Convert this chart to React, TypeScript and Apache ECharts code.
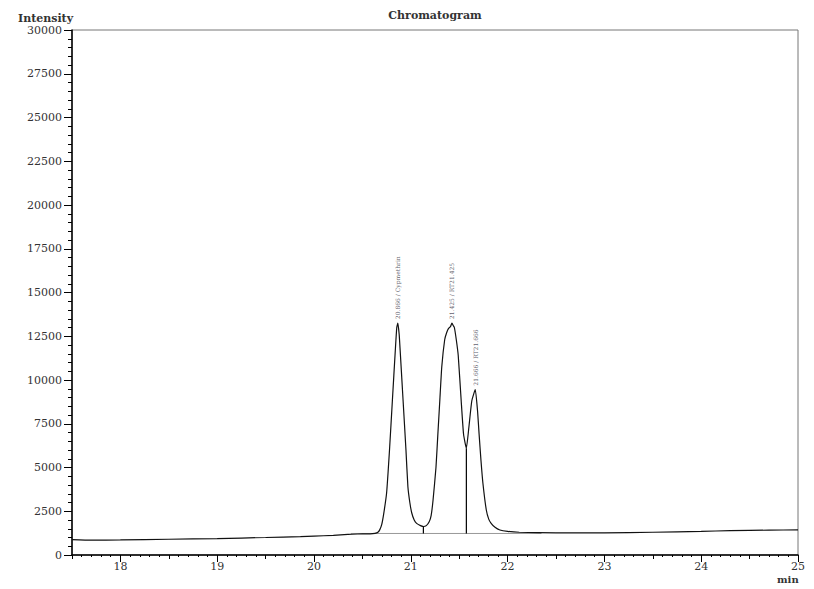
import { useEffect, useRef } from "react";
import * as echarts from "echarts";

// Retention time (min) and detector intensity
const TIME = [
  17.5, 17.7, 18.0, 18.5, 19.0, 19.5, 19.86, 20.0, 20.2, 20.35, 20.45, 20.58, 20.63, 20.66,
  20.68, 20.7, 20.72, 20.75, 20.78, 20.81, 20.84, 20.855, 20.866, 20.88, 20.89, 20.92, 20.95,
  20.97, 20.99, 21.01, 21.035, 21.06, 21.1, 21.13, 21.16, 21.19, 21.21, 21.23, 21.26, 21.28,
  21.3, 21.32, 21.35, 21.37, 21.39, 21.41, 21.425, 21.44, 21.45, 21.47, 21.49, 21.52, 21.545,
  21.574, 21.6, 21.63, 21.666, 21.69, 21.705, 21.725, 21.745, 21.78, 21.805, 21.83, 21.87,
  21.92, 22.0, 22.12, 22.5, 23.0, 23.5, 24.0, 24.3, 24.7, 25.0,
];
const INTENSITY = [
  880, 850, 860, 900, 940, 1000, 1050, 1080, 1120, 1180, 1200, 1210, 1240, 1300,
  1450, 1750, 2350, 3540, 6000, 8860, 11700, 13000, 13250, 12600, 11700, 8860, 6000,
  3900, 3000, 2400, 2000, 1810, 1680, 1630, 1680, 1900, 2250, 3140, 5000, 6950,
  8860, 10760, 12300, 12700, 12950, 13050, 13250, 13100, 13000, 12300, 11400, 8860, 6900,
  6100, 7300, 8800, 9450, 8200, 6950, 5400, 4100, 2570, 2050, 1810, 1580,
  1430, 1350, 1300, 1270, 1270, 1300, 1350, 1390, 1420, 1440,
];

// Peak annotations
const PEAK_TIME = [20.866, 21.425, 21.666];
const PEAK_HEIGHT = [13250, 13250, 9450];
const PEAK_LABEL = ["20.866 / Cypmethrin", "21.425 / RT21.425", "21.666 / RT21.666"];

// Integration baseline and drop lines
const BASELINE_TIME = [20.38, 22.35];
const BASELINE_LEVEL = 1230;
const DROP_TIME = [21.13, 21.574];
const DROP_TOP = [1630, 6100];

// Axes
const X_MIN = 17.5;
const X_MAX = 25;
const X_MAJOR = [18, 19, 20, 21, 22, 23, 24, 25];
const Y_MAX = 30000;
const Y_STEP = 2500;

const FONT = "DejaVu Serif";

export default function App() {
  const ref = useRef<HTMLDivElement>(null);

  useEffect(() => {
    if (!ref.current) return;
    const chart = echarts.init(ref.current, null, { renderer: "svg" });

    const mainData = TIME.map((t, i) => [t, INTENSITY[i]]);
    const peakData = PEAK_TIME.map((t, i) => ({
      value: [t, PEAK_HEIGHT[i]],
      name: PEAK_LABEL[i],
    }));

    const dropSeries = DROP_TIME.map((t, i) => ({
      type: "line",
      data: [
        [t, BASELINE_LEVEL],
        [t, DROP_TOP[i]],
      ],
      symbol: "none",
      lineStyle: { color: "#000", width: 1.2 },
      silent: true,
      z: 3,
    }));

    chart.setOption({
      animation: false,
      backgroundColor: "#fff",
      title: {
        text: "Chromatogram",
        left: 430,
        top: 5,
        textAlign: "center",
        textStyle: { fontFamily: FONT, fontSize: 11, fontWeight: "bold", color: "#333" },
      },
      graphic: [
        {
          type: "text",
          left: 18,
          top: 13,
          style: { text: "Intensity", font: `bold 11px '${FONT}'`, fill: "#333" },
        },
        {
          type: "text",
          left: 777,
          top: 574,
          style: { text: "min", font: `bold 10px '${FONT}'`, fill: "#333" },
        },
      ],
      grid: {
        left: 72,
        right: 16,
        top: 30,
        bottom: 34,
        show: true,
        borderColor: "#777",
        borderWidth: 1,
      },
      xAxis: [
        {
          type: "value",
          min: X_MIN,
          max: X_MAX,
          interval: 0.5,
          axisLine: { show: true, lineStyle: { color: "#000", width: 1.5 } },
          axisTick: { show: true, length: 4, lineStyle: { color: "#000" } },
          minorTick: { show: true, splitNumber: 5, length: 2, lineStyle: { color: "#000" } },
          splitLine: { show: false },
          axisLabel: {
            margin: 6,
            fontFamily: FONT,
            fontSize: 11,
            color: "#333",
            showMinLabel: false,
            formatter: (v: number) => (Number.isInteger(v) ? String(v) : ""),
          },
        },
        {
          type: "value",
          min: X_MIN,
          max: X_MAX,
          position: "bottom",
          axisLine: { show: false },
          axisLabel: { show: false },
          splitLine: { show: false },
          axisTick: { show: true, customValues: X_MAJOR, length: 7, lineStyle: { color: "#000" } },
        },
      ],
      yAxis: {
        type: "value",
        min: 0,
        max: Y_MAX,
        interval: Y_STEP,
        axisLine: { show: true, lineStyle: { color: "#000", width: 1.5 } },
        axisTick: { show: true, length: 8, lineStyle: { color: "#000" } },
        minorTick: { show: true, splitNumber: 5, length: 4, lineStyle: { color: "#000" } },
        splitLine: { show: false },
        axisLabel: {
          margin: 10,
          fontFamily: FONT,
          fontSize: 11,
          color: "#333",
          formatter: (v: number) => String(v),
        },
      },
      series: [
        {
          type: "line",
          data: mainData,
          symbol: "none",
          smooth: 0.15,
          lineStyle: { color: "#111", width: 1.2 },
          z: 4,
        },
        {
          type: "line",
          data: BASELINE_TIME.map((t) => [t, BASELINE_LEVEL]),
          symbol: "none",
          lineStyle: { color: "#999", width: 1 },
          z: 2,
        },
        ...dropSeries,
        {
          type: "scatter",
          data: peakData,
          symbolSize: 0,
          z: 5,
          label: {
            show: true,
            position: "top",
            distance: 4,
            rotate: 90,
            align: "left",
            verticalAlign: "middle",
            fontFamily: FONT,
            fontSize: 6,
            color: "#334",
            formatter: (p: any) => p.name,
          },
        },
      ],
    });

    return () => chart.dispose();
  }, []);

  return (
    <div
      ref={ref}
      style={{ position: "fixed", left: 0, top: 0, width: 814, height: 589 }}
    />
  );
}
